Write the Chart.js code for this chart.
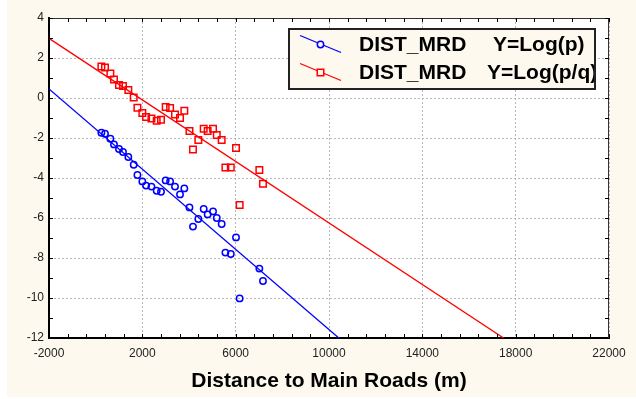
<!DOCTYPE html>
<html><head><meta charset="utf-8">
<script src="https://cdn.jsdelivr.net/npm/chart.js@4/dist/chart.umd.min.js"></script>
<style>html,body{margin:0;padding:0;background:#fff;}canvas{display:block;}</style>
</head><body>
<canvas id="c" width="636" height="399"></canvas>
<script>
const distX = [245,400,630,785,1000,1170,1400,1630,1790,2000,2160,2390,2615,2800,3000,3190,3400,3615,3800,4020,4170,4400,4630,4800,5030,5190,5400,5560,5790,6015,6170,7015,7170];
const logP = [-1.74,-1.79,-2.04,-2.32,-2.55,-2.70,-2.95,-3.34,-3.85,-4.17,-4.38,-4.43,-4.64,-4.69,-4.12,-4.17,-4.43,-4.82,-4.52,-5.47,-6.43,-6.05,-5.55,-5.82,-5.67,-6.00,-6.30,-7.73,-7.80,-6.97,-10.02,-8.53,-9.15];
const logPQ = [1.58,1.52,1.22,0.92,0.65,0.60,0.40,0.02,-0.49,-0.75,-0.95,-1.02,-1.14,-1.09,-0.45,-0.50,-0.82,-1.00,-0.64,-1.65,-2.57,-2.10,-1.54,-1.65,-1.54,-1.85,-2.10,-3.47,-3.47,-2.50,-5.35,-3.60,-4.29];
const fitPX = [-2000, 10420];
const fitPY = [0.45, -12];
const fitPQX = [-2000, 17480];
const fitPQY = [2.98, -12];
const legendLabels = [["DIST_MRD", "Y=Log(p)"], ["DIST_MRD", "Y=Log(p/q)"]];
const xTicks = [-2000, 2000, 6000, 10000, 14000, 18000, 22000];
const yTicks = [-12, -10, -8, -6, -4, -2, 0, 2, 4];

const BLUE = '#0000ff', RED = '#ff0000';
const pts = (xs, ys) => xs.map((x, i) => ({x, y: ys[i]}));

const bgPlugin = {
  id: 'bg',
  beforeDraw(chart) {
    const {ctx, chartArea: a} = chart;
    ctx.save();
    ctx.fillStyle = '#ffffff';
    ctx.fillRect(0, 0, chart.width, chart.height);
    ctx.fillStyle = '#fdf9ee';
    ctx.fillRect(7, 0, chart.width - 7, 397);
    ctx.fillStyle = '#ffffff';
    ctx.fillRect(a.left, a.top, a.right - a.left, a.bottom - a.top);
    ctx.restore();
  }
};

const framePlugin = {
  id: 'frame',
  afterDraw(chart) {
    const {ctx, chartArea: a, scales: {x, y}} = chart;
    ctx.save();
    ctx.strokeStyle = '#333';
    ctx.lineWidth = 1;
    ctx.beginPath();
    ctx.moveTo(a.left, a.top + 0.5); ctx.lineTo(a.right, a.top + 0.5);
    ctx.moveTo(a.right - 0.5, a.top); ctx.lineTo(a.right - 0.5, a.bottom);
    ctx.stroke();
    ctx.strokeStyle = '#000';
    ctx.beginPath();
    for (let v = -2000; v <= 22000; v += 800) {
      const px = Math.round(x.getPixelForValue(v)) + 0.5;
      ctx.moveTo(px, a.bottom); ctx.lineTo(px, a.bottom - 4);
      ctx.moveTo(px, a.top); ctx.lineTo(px, a.top + 4);
    }
    for (let v = -12; v <= 4; v += 1) {
      const py = Math.round(y.getPixelForValue(v)) + 0.5;
      ctx.moveTo(a.left, py); ctx.lineTo(a.left + 4, py);
      ctx.moveTo(a.right, py); ctx.lineTo(a.right - 4, py);
    }
    ctx.stroke();

    const bx = 289, by = 29, bw = 306, bh = 60;
    ctx.fillStyle = '#fdf9ee';
    ctx.fillRect(bx, by, bw, bh);
    ctx.strokeStyle = '#222';
    ctx.lineWidth = 2;
    ctx.strokeRect(bx, by, bw, bh);
    ctx.beginPath();
    ctx.rect(bx + 1, by + 1, bw - 2, bh - 2);
    ctx.clip();
    const rows = [
      {y: 44.5, color: BLUE, style: 'circle', r: 3.2, tx: 493},
      {y: 72.5, color: RED, style: 'rect', r: 4.6, tx: 487}
    ];
    rows.forEach((row, i) => {
      ctx.strokeStyle = row.color;
      ctx.lineWidth = 1.3;
      ctx.beginPath();
      ctx.moveTo(300, row.y - 9); ctx.lineTo(341, row.y + 8);
      ctx.stroke();
      ctx.fillStyle = '#fdf9ee';
      ctx.lineWidth = 1.5;
      Chart.helpers.drawPoint(ctx, {pointStyle: row.style, radius: row.r, borderWidth: 1.5, rotation: 0}, 320.5, row.y);
      ctx.fillStyle = '#000';
      ctx.font = 'bold 21px "Liberation Sans", Arial, sans-serif';
      ctx.textBaseline = 'middle';
      ctx.textAlign = 'left';
      ctx.fillText(legendLabels[i][0], 359, row.y + 1);
      ctx.fillText(legendLabels[i][1], row.tx, row.y + 1);
    });
    ctx.restore();
  }
};

const lineDs = (data, color) => ({
  type: 'scatter', data, showLine: true, borderColor: color, borderWidth: 1.3,
  pointRadius: 0, pointHoverRadius: 0, fill: false
});
const ptDs = (data, color, style, r) => ({
  type: 'scatter', data, showLine: false, borderColor: color, backgroundColor: 'rgba(0,0,0,0)',
  pointStyle: style, pointRadius: r, pointBorderWidth: 1.5, pointHoverRadius: r
});
const plain = v => String(v);

new Chart(document.getElementById('c'), {
  type: 'scatter',
  data: {
    datasets: [
      lineDs(pts(fitPX, fitPY), BLUE),
      lineDs(pts(fitPQX, fitPQY), RED),
      ptDs(pts(distX, logP), BLUE, 'circle', 3.2),
      ptDs(pts(distX, logPQ), RED, 'rect', 4.6)
    ]
  },
  options: {
    responsive: false,
    animation: false,
    events: [],
    layout: {padding: {left: 0, right: 27, top: 18, bottom: 0}},
    plugins: {legend: {display: false}, tooltip: {enabled: false}},
    scales: {
      x: {
        type: 'linear', min: -2000, max: 22000,
        afterBuildTicks: s => { s.ticks = xTicks.map(v => ({value: v})); },
        afterFit: s => { s.height = 61; },
        ticks: {padding: 8, color: '#222', font: {family: '"Liberation Sans", Arial, sans-serif', size: 12}, maxRotation: 0, autoSkip: false, callback: plain},
        grid: {color: '#b8b8b8', lineWidth: 1, drawTicks: false},
        border: {display: true, color: '#000', width: 2, dash: [2, 2]},
        title: {display: true, text: 'Distance to Main Roads (m)', color: '#000',
                font: {family: '"Liberation Sans", Arial, sans-serif', size: 21, weight: 'bold'},
                padding: {top: 0, bottom: 5}}
      },
      y: {
        type: 'linear', min: -12, max: 4,
        afterBuildTicks: s => { s.ticks = yTicks.map(v => ({value: v})); },
        afterFit: s => { s.width = 49; },
        ticks: {padding: 5, color: '#222', font: {family: '"Liberation Sans", Arial, sans-serif', size: 12}, autoSkip: false, callback: plain},
        grid: {color: '#b8b8b8', lineWidth: 1, drawTicks: false},
        border: {display: true, color: '#000', width: 2, dash: [2, 2]}
      }
    }
  },
  plugins: [bgPlugin, framePlugin]
});
</script>
</body></html>
